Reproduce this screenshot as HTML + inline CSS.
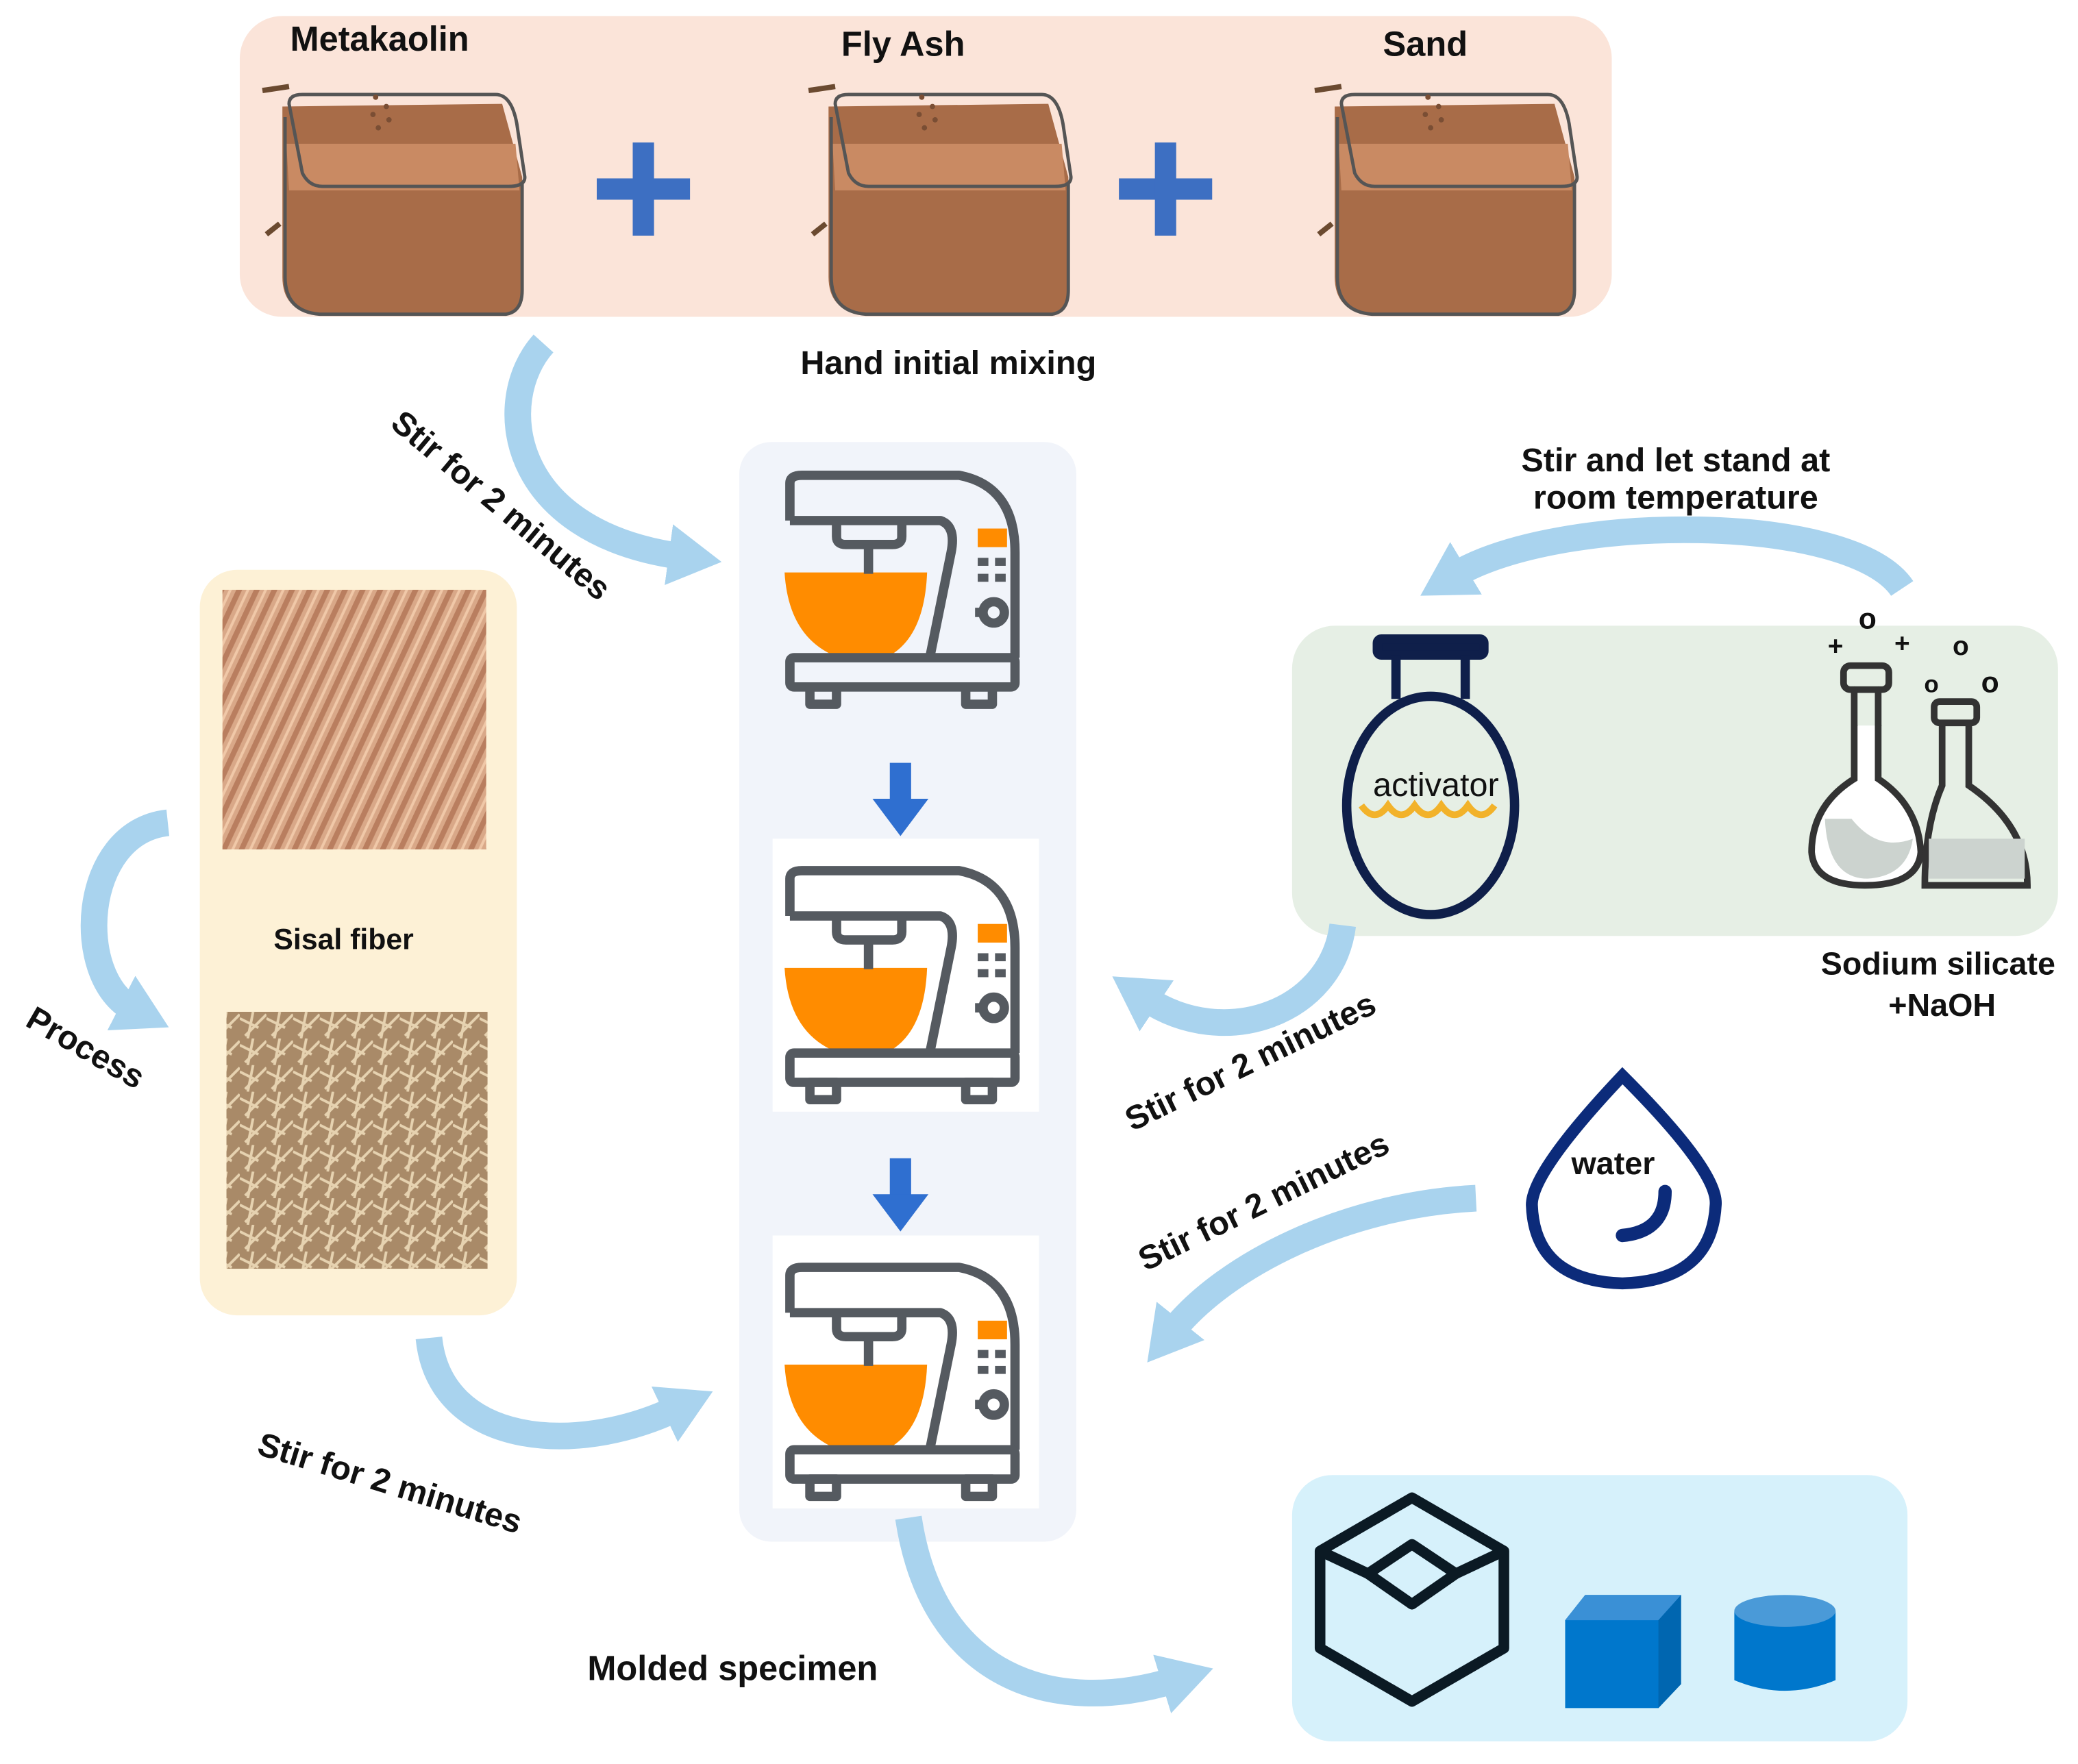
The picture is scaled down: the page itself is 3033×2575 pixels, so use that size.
<!DOCTYPE html>
<html><head><meta charset="utf-8"><style>html,body{margin:0;padding:0;background:#fff}svg{display:block}text{font-family:"Liberation Sans",Arial,sans-serif;font-weight:bold;fill:#111}</style></head>
<body>
<svg width="3033" height="2575" viewBox="0 0 1560 1325" preserveAspectRatio="none" xmlns="http://www.w3.org/2000/svg">
<defs>
<marker id="ah" markerUnits="userSpaceOnUse" markerWidth="50" markerHeight="50" refX="10" refY="25" orient="auto"><path d="M0,2 L40,25 L0,48 Z" fill="#a9d3ee"/></marker>
<g id="beaker">
<path d="M0,12 L0,140 Q0,165 25,168 L165,168 Q180,165 180,150 L180,65 L165,10 Z" fill="#a86c48"/>
<path d="M3,40 L175,40 L178,75 L5,75 Z" fill="#c98a63"/>
<path d="M5,10 Q5,3 15,3 L160,3 Q172,3 176,25 L182,65 Q182,72 170,72 L30,72 Q20,72 15,62 Z" fill="none" stroke="#555" stroke-width="2.5"/>
<path d="M2,20 L2,140 Q2,166 28,168 L168,168 Q180,166 180,150 L180,70" fill="none" stroke="#555" stroke-width="2.5"/>
<path d="M-15,0 L5,-3" stroke="#6b4a30" stroke-width="4"/><path d="M-12,108 L-2,100" stroke="#6b4a30" stroke-width="4"/>
<g fill="#7a4e34"><circle cx="70" cy="5" r="2"/><circle cx="78" cy="12" r="2"/><circle cx="68" cy="18" r="2"/><circle cx="80" cy="22" r="2"/><circle cx="72" cy="28" r="2"/></g>
</g>
<g id="mixer" fill="none" stroke="#555a60" stroke-width="7" stroke-linejoin="round">
<path d="M106,75 L-1,75 Q2,125 40,139 L75,139 Q104,125 106,75 Z" fill="#ff8c00" stroke="none"/>
<path d="M3,36 L3,8 Q3,2 12,2 L130,2 Q172,10 172,60 L172,139"/>
<path d="M3,36 L116,36 Q128,40 124,60 L108,139"/>
<path d="M38,36 L38,48 Q38,54 45,54 L80,54 Q87,54 87,48 L87,36"/>
<path d="M62,54 L62,76"/>
<rect x="3" y="139" width="169" height="22" rx="3"/>
<rect x="18" y="161" width="20" height="13"/><rect x="135" y="161" width="20" height="13"/>
<rect x="144" y="42" width="22" height="14" fill="#ff8c00" stroke="none"/>
<g fill="#555a60" stroke="none"><rect x="144" y="64" width="8" height="6"/><rect x="157" y="64" width="8" height="6"/><rect x="144" y="76" width="8" height="6"/><rect x="157" y="76" width="8" height="6"/></g>
<circle cx="156" cy="105" r="8"/><path d="M142,105 L148,105"/>
</g>
</defs>

<rect x="180" y="12" width="1030" height="226" rx="32" fill="#fbe4d9"/>
<use href="#beaker" x="212" y="68"/>
<use href="#beaker" x="622" y="68"/>
<use href="#beaker" x="1002" y="68"/>
<g fill="#3d6fc2"><rect x="448" y="134" width="70" height="16"/><rect x="475" y="107" width="16" height="70"/><rect x="840" y="134" width="70" height="16"/><rect x="867" y="107" width="16" height="70"/></g>
<text x="285" y="38" font-size="26" text-anchor="middle">Metakaolin</text>
<text x="678" y="42" font-size="26" text-anchor="middle">Fly Ash</text>
<text x="1070" y="42" font-size="26" text-anchor="middle">Sand</text>
<text x="712" y="281" font-size="25" text-anchor="middle">Hand initial mixing</text>

<rect x="555" y="332" width="253" height="826" rx="24" fill="#f1f4fa"/>
<rect x="580" y="630" width="200" height="205" fill="#fff"/>
<rect x="580" y="928" width="200" height="205" fill="#fff"/>
<use href="#mixer" x="590" y="355"/>
<use href="#mixer" x="590" y="652"/>
<use href="#mixer" x="590" y="950"/>
<g fill="#2f6fd0"><rect x="668" y="573" width="16" height="30"/><path d="M655,600 L697,600 L676,628 Z"/><rect x="668" y="870" width="16" height="30"/><path d="M655,897 L697,897 L676,925 Z"/></g>

<rect x="150" y="428" width="238" height="560" rx="28" fill="#fdf1d6"/>
<defs><pattern id="fib" width="12" height="200" patternUnits="userSpaceOnUse" patternTransform="rotate(25)"><rect width="12" height="200" fill="#d9a888"/><rect x="0" width="4" height="200" fill="#b97e5f"/><rect x="7" width="2" height="200" fill="#f0c8a8"/></pattern>
<pattern id="shred" width="20" height="20" patternUnits="userSpaceOnUse"><rect width="20" height="20" fill="#a98a68"/><path d="M0,5 L14,12 M4,18 L20,2 M10,0 L6,20" stroke="#e6d2b0" stroke-width="2"/></pattern></defs>
<rect x="167" y="443" width="198" height="195" fill="url(#fib)"/>
<rect x="170" y="760" width="196" height="193" fill="url(#shred)"/>
<text x="258" y="713" font-size="22" text-anchor="middle" fill="#333">Sisal  fiber</text>

<rect x="970" y="470" width="575" height="233" rx="32" fill="#e6efe5"/>
<g stroke="#0f1f4a" stroke-width="7" fill="none">
<rect x="1034" y="480" width="80" height="12" rx="3" fill="#0f1f4a"/>
<path d="M1048,492 L1048,525 M1100,492 L1100,525"/>
<ellipse cx="1074" cy="605" rx="63" ry="82"/>
</g>
<path d="M1022,605 q10,14 20,0 q10,14 20,0 q10,14 20,0 q10,14 20,0 q10,14 20,0" stroke="#f2b22a" stroke-width="5" fill="none"/>
<text x="1078" y="598" font-size="25" text-anchor="middle" style="font-weight:normal">activator</text>
<g stroke="#333" stroke-width="5" fill="none" stroke-linecap="round">
<path d="M1392,545 L1392,585 Q1360,605 1360,640 Q1362,665 1400,665 Q1440,665 1442,640 Q1440,605 1410,585 L1410,545" fill="#fff"/>
<rect x="1384" y="500" width="34" height="18" rx="5"/>
<path d="M1392,518 L1392,545 M1410,518 L1410,545"/>
<path d="M1458,545 L1458,590 Q1445,620 1445,665 L1522,665 Q1522,620 1478,590 L1478,545"/>
<rect x="1452" y="527" width="32" height="16" rx="4"/>
</g>
<path d="M1370,615 Q1372,660 1402,660 Q1432,658 1436,630 Q1410,640 1390,615 Z" fill="#ccd3cf"/>
<rect x="1448" y="630" width="72" height="30" fill="#ccd3cf"/>
<text x="1402" y="472" font-size="22" fill="#f07c1e" text-anchor="middle">o</text>
<text x="1428" y="490" font-size="20" fill="#f07c1e" text-anchor="middle">+</text>
<text x="1378" y="492" font-size="20" text-anchor="middle">+</text>
<text x="1472" y="492" font-size="20" text-anchor="middle">o</text>
<text x="1450" y="520" font-size="18" text-anchor="middle">o</text>
<text x="1494" y="520" font-size="22" fill="#f07c1e" text-anchor="middle">o</text>
<text x="1258" y="354" font-size="25" text-anchor="middle">Stir and let stand at</text>
<text x="1258" y="382" font-size="25" text-anchor="middle">room temperature</text>
<text x="1455" y="732" font-size="24" text-anchor="middle">Sodium silicate</text>
<text x="1458" y="763" font-size="24" text-anchor="middle">+NaOH</text>

<path d="M1218,808 Q1290,880 1288,905 Q1285,962 1218,964 Q1152,962 1150,905 Q1150,880 1218,808 Z" fill="none" stroke="#0c2b7a" stroke-width="9"/>
<path d="M1250,895 Q1250,925 1218,928" fill="none" stroke="#0c2b7a" stroke-width="10" stroke-linecap="round"/>
<text x="1211" y="882" font-size="24" text-anchor="middle">water</text>

<rect x="970" y="1108" width="462" height="200" rx="30" fill="#d6f1fb"/>
<g stroke="#0b1a24" stroke-width="8" fill="none" stroke-linejoin="round">
<path d="M1060,1125 L1129,1165 L1129,1238 L1060,1278 L991,1238 L991,1165 Z"/>
<path d="M991,1165 L1027,1182 M1129,1165 L1093,1182"/>
<path d="M1060,1160 L1093,1182 L1060,1205 L1027,1182 Z"/>
</g>
<path d="M1175,1217 L1190,1198 L1262,1198 L1262,1265 L1245,1283 L1175,1283 Z" fill="#0077cc"/>
<path d="M1175,1217 L1190,1198 L1262,1198 L1245,1217 Z" fill="#3a90d6"/>
<path d="M1245,1217 L1262,1198 L1262,1265 L1245,1283 Z" fill="#0066b0"/>
<path d="M1302,1210 L1302,1262 Q1340,1278 1378,1262 L1378,1210 Z" fill="#0077cc"/>
<ellipse cx="1340" cy="1210" rx="38" ry="12" fill="#4a9ad8"/>
<text x="550" y="1262" font-size="26" text-anchor="middle">Molded specimen</text>

<g fill="none" stroke="#a9d3ee" stroke-width="20" marker-end="url(#ah)">
<path d="M408,258 C370,300 380,400 512,418"/>
<path d="M126,618 C60,625 55,735 100,758"/>
<path d="M322,1005 C330,1085 430,1095 508,1058"/>
<path d="M1008,695 C1000,760 920,790 860,750"/>
<path d="M1108,900 C1010,905 920,950 880,1000"/>
<path d="M1428,442 C1390,385 1170,385 1092,432"/>
<path d="M682,1140 C700,1260 790,1290 882,1262"/>
</g>

<text transform="translate(292,320) rotate(40)" font-size="25">Stir for 2 minutes</text>
<text transform="translate(18,770) rotate(30)" font-size="25">Process</text>
<text transform="translate(192,1092) rotate(17)" font-size="25">Stir for 2 minutes</text>
<text transform="translate(850,850) rotate(-26)" font-size="25">Stir for 2 minutes</text>
<text transform="translate(860,955) rotate(-26)" font-size="25">Stir for 2 minutes</text>
</svg>
</body></html>
